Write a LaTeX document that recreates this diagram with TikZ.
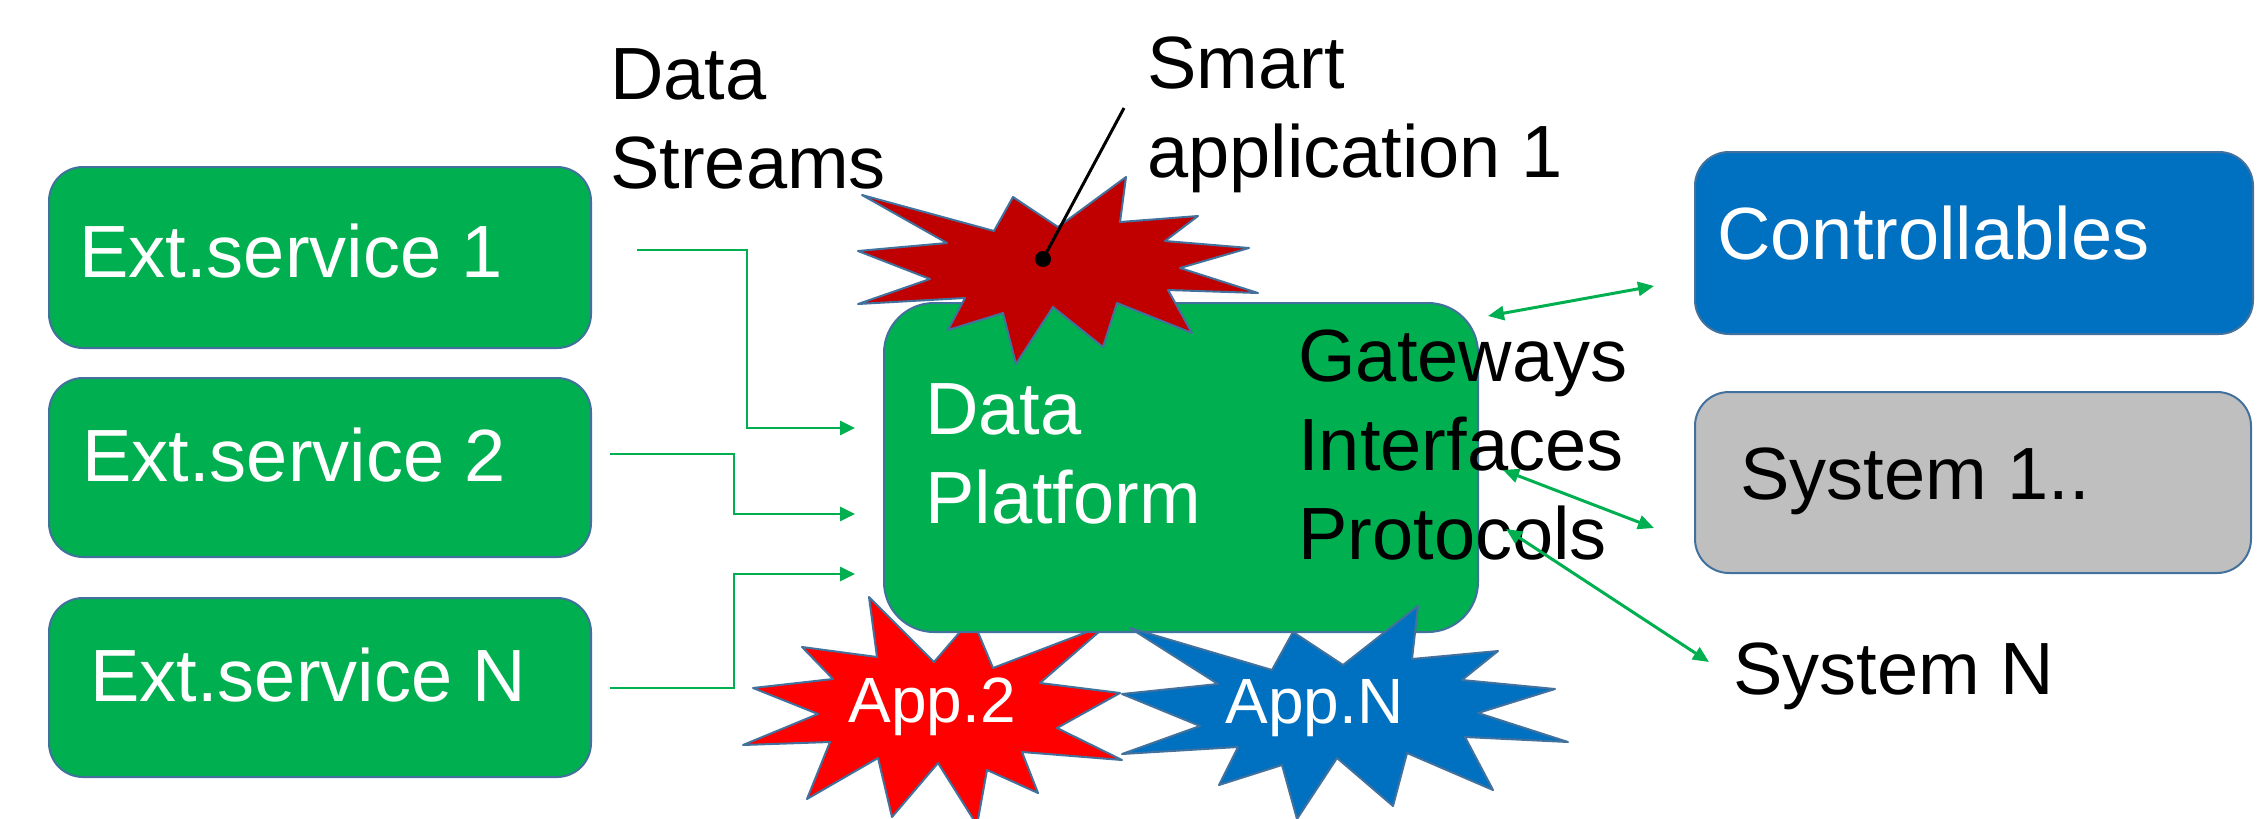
\documentclass[tikz,border=0pt]{standalone}
\usepackage{fontspec}
\setmainfont{Liberation Sans}
\usetikzlibrary{arrows.meta}
\definecolor{gr}{HTML}{00B050}
\definecolor{dred}{HTML}{C00000}
\definecolor{rd}{HTML}{FF0000}
\definecolor{bl}{HTML}{0070C0}
\definecolor{gy}{HTML}{BFBFBF}
\definecolor{outl}{HTML}{41719C}
\begin{document}
\begin{tikzpicture}[x=0.5pt,y=-0.5pt,
  font=\fontsize{37pt}{44.5pt}\selectfont,
  box/.style={draw=outl, line width=1pt, rounded corners=17pt, inner sep=0pt, anchor=north west},
  wt/.style={text=white, inner sep=0pt, anchor=base west, align=left},
  bt/.style={text=black, inner sep=0pt, anchor=base west, align=left},
  burst/.style={draw=outl, line width=1pt, line join=round},
  elbow/.style={draw=gr, line width=1.3pt, -{Triangle[length=7.5pt,width=7pt]}},
  dbl/.style={draw=gr, line width=1.5pt, {Triangle[length=8pt,width=7pt]}-{Triangle[length=8pt,width=7pt]}}]
\useasboundingbox (0,0) rectangle (2266,819);
\clip (0,0) rectangle (2266,819);

% external services
\node[box, fill=gr, minimum width=271pt, minimum height=90.5pt] (es1) at (48,166) {};
\node[box, fill=gr, minimum width=271pt, minimum height=89.5pt] (es2) at (48,377) {};
\node[box, fill=gr, minimum width=271pt, minimum height=89.5pt] (es3) at (48,597) {};
\node[wt] (es1t) at (79,277) {Ext.service 1};
\node[wt] (es2t) at (82,481) {Ext.service 2};
\node[wt] (es3t) at (90,701) {Ext.service N};

% elbow connectors
\coordinate (s1) at (637,250); \coordinate (e1) at (855,428);
\coordinate (s2) at (610,454); \coordinate (e2) at (855,514);
\coordinate (s3) at (610,688); \coordinate (e3) at (855,574);
\draw[elbow] (s1) -- ++(110,0) |- (e1);
\draw[elbow] (s2) -- ++(124,0) |- (e2);
\draw[elbow] (s3) -- ++(124,0) |- (e3);

% App.2 (under the platform box)
\filldraw[burst, fill=rd] (869,597) -- (934,662) -- (972,618) -- (993,668) -- (1108,624) -- (1040,683) -- (1120,693) -- (1057,728) -- (1122,760) -- (1022,752) -- (1038,793) -- (987,770) -- (977,825) -- (938,763) -- (892,817) -- (878,758) -- (807,799) -- (830,742) -- (743,745) -- (818,714) -- (753,688) -- (833,679) -- (802,647) -- (877,657) -- cycle;

% data platform
\node[box, fill=gr, rounded corners=25pt, minimum width=297pt, minimum height=164.5pt] (dp) at (883,302) {};

% App.N
\filldraw[burst, fill=bl] (1130,628) -- (1272,670) -- (1293,632) -- (1343,665) -- (1418,606) -- (1412,659) -- (1498,651) -- (1462,680) -- (1555,689) -- (1478,713) -- (1568,742) -- (1465,737) -- (1493,790) -- (1407,753) -- (1393,806) -- (1337,758) -- (1297,819) -- (1282,765) -- (1219,785) -- (1238,747) -- (1122,754) -- (1200,726) -- (1122,694) -- (1218,684) -- cycle;

% Smart application 1
\filldraw[burst, fill=dred] (862,195) -- (994,231) -- (1013,197) -- (1058,227) -- (1126,177) -- (1120,222) -- (1198,216) -- (1165,241) -- (1249,248) -- (1180,268) -- (1258,293) -- (1168,290) -- (1192,333) -- (1117,303) -- (1103,347) -- (1053,307) -- (1016,364) -- (1003,313) -- (948,330) -- (965,298) -- (858,304) -- (930,279) -- (858,251) -- (947,243) -- cycle;

% app labels
\node[wt, font=\fontsize{32pt}{38pt}\selectfont] (app2) at (848,722) {App.2};
\node[wt, font=\fontsize{32pt}{38pt}\selectfont] (appn) at (1225,723) {App.N};

% texts (anchor = baseline of the last line)
\node[bt] (streams) at (610,188) {Data\\Streams};
\node[bt] (smart) at (1147,177) {Smart\\application 1};
\node[wt] (dpt) at (925,523) {Data\\Platform};
\node[bt] (gw) at (1298,559) {Gateways\\Interfaces\\Protocols};

% pointer
\coordinate (dot) at (1043,259);
\coordinate (ptr) at (1124,108);
\draw[line width=1.5pt] (dot) -- (ptr);
\fill (dot) circle (4pt);

% right side
\node[box, fill=bl, minimum width=279pt, minimum height=91pt] (ctrl) at (1694,151) {};
\node[box, fill=gy, minimum width=278pt, minimum height=90.5pt] (sys1) at (1694,391) {};
\node[wt] (ctrlt) at (1717,259) {Controllables};
\node[bt] (sys1t) at (1740,499) {System 1..};
\node[bt] (sysn) at (1733,694) {System N};

\coordinate (a1s) at (1488,316); \coordinate (a1e) at (1654,286);
\coordinate (a2s) at (1503,470); \coordinate (a2e) at (1654,528);
\coordinate (a3s) at (1506,529); \coordinate (a3e) at (1709,662);
\draw[dbl] (a1s) -- (a1e);
\draw[dbl] (a2s) -- (a2e);
\draw[dbl] (a3s) -- (a3e);
\end{tikzpicture}
\end{document}
